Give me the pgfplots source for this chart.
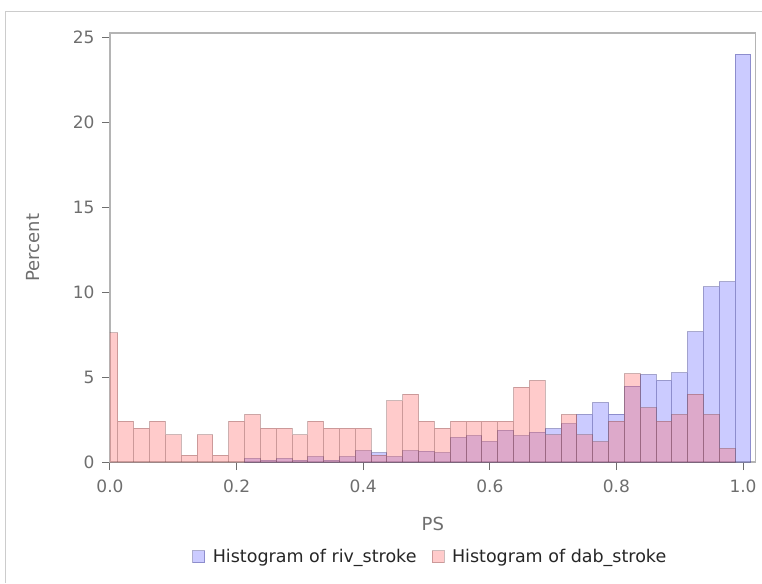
\documentclass[border=0pt]{standalone}
\usepackage{fontspec}
\setmainfont{DejaVu Sans}
\usepackage{pgfplots}
\pgfplotsset{compat=1.18}
\usepackage{pgfplotstable}
\definecolor{rivfill}{RGB}{102,102,255}
\definecolor{rivedge}{RGB}{50,50,130}
\definecolor{dabfill}{RGB}{255,102,102}
\definecolor{dabedge}{RGB}{110,60,60}
\definecolor{axgray}{RGB}{180,180,180}
\definecolor{labgray}{RGB}{110,110,110}

\pgfplotstableread{
x y
0.225 0.2
0.25 0.1
0.275 0.2
0.3 0.1
0.325 0.3
0.35 0.1
0.375 0.3
0.4 0.65
0.425 0.53
0.45 0.3
0.475 0.65
0.5 0.63
0.525 0.53
0.55 1.43
0.575 1.53
0.6 1.2
0.625 1.86
0.65 1.53
0.675 1.75
0.7 1.96
0.725 2.25
0.75 2.8
0.775 3.5
0.8 2.82
0.825 4.47
0.85 5.14
0.875 4.8
0.9 5.24
0.925 7.65
0.95 10.3
0.975 10.6
1.0 24.0
}\rivdata

\pgfplotstableread{
x y
0.0 7.6
0.025 2.4
0.05 2.0
0.075 2.4
0.1 1.6
0.125 0.4
0.15 1.6
0.175 0.4
0.2 2.4
0.225 2.8
0.25 2.0
0.275 2.0
0.3 1.6
0.325 2.4
0.35 2.0
0.375 2.0
0.4 2.0
0.425 0.4
0.45 3.6
0.475 4.0
0.5 2.4
0.525 2.0
0.55 2.4
0.575 2.4
0.6 2.4
0.625 2.4
0.65 4.4
0.675 4.8
0.7 1.6
0.725 2.8
0.75 1.6
0.775 1.2
0.8 2.4
0.825 5.2
0.85 3.2
0.875 2.4
0.9 2.8
0.925 4.0
0.95 2.8
0.975 0.8
}\dabdata

\begin{document}
\begin{tikzpicture}
\useasboundingbox (-110pt,-121pt) rectangle (652pt,462pt);
\draw[black!20, line width=1pt] (-104pt,-121pt) -- (-104pt,450pt) -- (652pt,450pt);
\begin{axis}[
  at={(0pt,0pt)}, anchor=south west,
  scale only axis,
  width=645.7pt, height=429pt,
  xmin=0, xmax=1.02, ymin=0, ymax=25.24,
  axis line style={axgray, line width=1.2pt},
  tick align=outside, tick pos=left,
  major tick length=8pt,
  tick style={labgray, line width=1pt},
  xtick={0,0.2,0.4,0.6,0.8,1.0},
  ytick={0,5,10,15,20,25},
  /pgf/number format/assume math mode=true,
  xticklabel style={/pgf/number format/fixed, /pgf/number format/fixed zerofill, /pgf/number format/precision=1, font=\fontsize{17}{20}\selectfont, text=labgray, yshift=-6pt},
  yticklabel style={font=\fontsize{17}{20}\selectfont, text=labgray, xshift=-4pt},
  xlabel={PS}, ylabel={Percent},
  label style={font=\fontsize{18}{21}\selectfont, text=labgray},
  xlabel style={at={(axis description cs:0.5,-0.1445)}, anchor=center},
  ylabel style={at={(axis description cs:-0.1192,0.5)}, anchor=center, rotate=0},
  ybar, bar width=0.025, bar shift=0pt,
  legend columns=2,
  legend style={at={(axis description cs:0.496,-0.2207)}, anchor=center, draw=none, fill=none,
    font=\fontsize{17.5}{20}\selectfont, text=black!85,
    /tikz/every even column/.append style={column sep=13pt}},
  legend image code/.code={\draw[#1] (0pt,-6pt) rectangle (12pt,6pt); \path[draw=none, fill=none] (12pt,0pt) -- (18pt,0pt);},
]
\addplot[fill=rivfill, fill opacity=0.34, draw=rivedge, draw opacity=0.4, line width=1pt] table[x=x,y=y] {\rivdata};
\addlegendentry{Histogram of riv\_stroke}
\addplot[fill=dabfill, fill opacity=0.34, draw=dabedge, draw opacity=0.35, line width=1pt] table[x=x,y=y] {\dabdata};
\addlegendentry{Histogram of dab\_stroke}
\draw[axgray, line width=1.2pt] (rel axis cs:0,1) -- (rel axis cs:1,1) -- (rel axis cs:1,0);
\end{axis}
\end{tikzpicture}
\end{document}
